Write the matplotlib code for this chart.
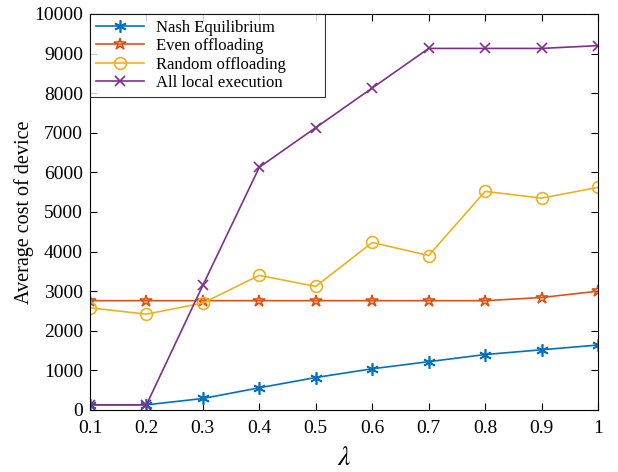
import numpy as np
import matplotlib.pyplot as plt

plt.rcParams['font.family'] = ['Liberation Serif', 'DejaVu Serif']
plt.rcParams['mathtext.fontset'] = 'stix'

lam = [0.1, 0.2, 0.3, 0.4, 0.5, 0.6, 0.7, 0.8, 0.9, 1.0]
nash = [130, 130, 290, 560, 820, 1040, 1220, 1400, 1520, 1640]
even = [2760, 2760, 2760, 2760, 2760, 2760, 2760, 2760, 2840, 3000]
rand_off = [2580, 2420, 2700, 3400, 3120, 4230, 3900, 5520, 5350, 5620]
local = [130, 130, 3150, 6130, 7130, 8130, 9130, 9130, 9130, 9200]

fig = plt.figure(figsize=(6.18, 4.72), dpi=100)
ax = fig.add_axes([0.1456, 0.1314, 0.822, 0.839])

ax.plot(lam, nash, color='#0072BD', marker=(6, 2, 0), markersize=9, mew=1.2, lw=1.2, label='Nash Equilibrium')
ax.plot(lam, even, color='#D95319', marker='*', markersize=9, mfc='none', mew=1.2, lw=1.2, label='Even offloading')
ax.plot(lam, rand_off, color='#EDB120', marker='o', markersize=8.5, mfc='none', mew=1.2, lw=1.2, label='Random offloading')
ax.plot(lam, local, color='#7E2F8E', marker='x', markersize=7, mew=1.2, lw=1.2, label='All local execution')

ax.set_xlim(0.1, 1)
ax.set_ylim(0, 10000)
ax.set_xticks(lam)
ax.set_xticklabels(['0.1', '0.2', '0.3', '0.4', '0.5', '0.6', '0.7', '0.8', '0.9', '1'])
ax.set_yticks(np.arange(0, 10001, 1000))
ax.tick_params(direction='in', top=True, right=True, labelsize=14, length=5)
ax.tick_params(axis='x', pad=7.5)
ax.tick_params(axis='y', pad=5)
for s in ax.spines.values():
    s.set_linewidth(0.8)

ax.set_xlabel(r'$\lambda$', fontsize=20, labelpad=6)
ax.set_ylabel('Average cost of device', fontsize=14.5, labelpad=0)

leg = ax.legend(loc='upper left', bbox_to_anchor=(0, 0.8, 0.4626, 0.2), mode='expand',
                fontsize=12, fancybox=False, edgecolor='black',
                borderaxespad=0, handlelength=2.9, handletextpad=0.7,
                borderpad=0.35, labelspacing=0.15)
leg.get_frame().set_linewidth(0.8)

fig.savefig('out.png', dpi=100)
